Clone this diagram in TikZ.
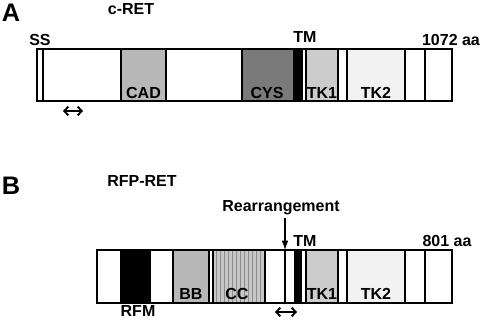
\documentclass[tikz,border=0pt]{standalone}
\usepackage{fontspec}
\setmainfont{Liberation Sans}
\usetikzlibrary{arrows.meta,patterns}

\begin{document}
\begin{tikzpicture}[x=0.75pt,y=-0.75pt,line width=0.9pt,
  lbl/.style={anchor=base,inner sep=0pt,font=\fontsize{12}{13}\selectfont\bfseries},
  panel/.style={anchor=base,inner sep=0pt,font=\fontsize{19}{20}\selectfont\bfseries},
  span/.style={{Straight Barb[length=3pt,width=6.5pt]}-{Straight Barb[length=3pt,width=6.5pt]},line width=1.4pt}]
\useasboundingbox (0,0) rectangle (483,320);

% panel A: c-RET
\node[panel] (pa) at (11,21.5) {A};
\node[lbl] (cret) at (131,15) {c-RET};
\fill[black!28] (121,49) rectangle (166,101);
\fill[black!52] (242,49) rectangle (293,101);
\fill[black] (293,49) rectangle (303,101);
\fill[black!20] (306,49) rectangle (338,101);
\fill[black!5] (347,49) rectangle (405,101);
\draw (37,49) rectangle (452,101);
\draw (43,49) -- (43,101);
\draw (121,49) rectangle (166,101);
\draw (242,49) rectangle (306,101);
\draw (306,49) rectangle (338,101);
\draw (347,49) rectangle (405,101);
\draw (425,49) -- (425,101);
\node[lbl] (ss) at (40,46) {SS};
\node[lbl] (tma) at (305,43) {TM};
\node[lbl] (lena) at (451,46) {1072 aa};
\node[lbl] (cad) at (143.5,99) {CAD};
\node[lbl] (cys) at (267,99) {CYS};
\node[lbl] (tk1a) at (322,99) {TK1};
\node[lbl] (tk2a) at (376,99) {TK2};
\coordinate (sa1) at (63,111);
\coordinate (sa2) at (83,111);
\draw[span] (sa1) -- (sa2);

% panel B: RFP-RET
\node[panel] (pb) at (11,195) {B};
\node[lbl] (rfpret) at (142,187) {RFP-RET};
\fill[black] (121,250) rectangle (150,303);
\fill[black!28] (173,250) rectangle (209,303);
\fill[black!22] (213,250) rectangle (265,303);
\path[pattern=vertical lines,pattern color=black!45] (213,250) rectangle (265,303);
\fill[black] (295,250) rectangle (301,303);
\fill[black!20] (306,250) rectangle (338,303);
\fill[black!5] (347,250) rectangle (405,303);
\draw (97,250) rectangle (452,303);
\draw (121,250) rectangle (150,303);
\draw (173,250) rectangle (209,303);
\draw (213,250) rectangle (265,303);
\draw (285,250) -- (285,303);
\draw (295,250) rectangle (301,303);
\draw (306,250) rectangle (338,303);
\draw (347,250) rectangle (405,303);
\draw (425,250) -- (425,303);
\node[lbl] (rear) at (281,212) {Rearrangement};
\coordinate (bp) at (285,250);
\draw[-{Latex[length=7pt,width=5pt]},line width=0.8pt] (285,218) -- (bp);
\node[lbl] (tmb) at (305,247) {TM};
\node[lbl] (lenb) at (447,247) {801 aa};
\node[lbl] (rfm) at (138,317) {RFM};
\node[lbl] (bb) at (191,300) {BB};
\node[lbl] (cc) at (237,300) {CC};
\node[lbl] (tk1b) at (322,300) {TK1};
\node[lbl] (tk2b) at (376,300) {TK2};
\coordinate (sb1) at (275,312);
\coordinate (sb2) at (297,312);
\draw[span] (sb1) -- (sb2);
\end{tikzpicture}
\end{document}
